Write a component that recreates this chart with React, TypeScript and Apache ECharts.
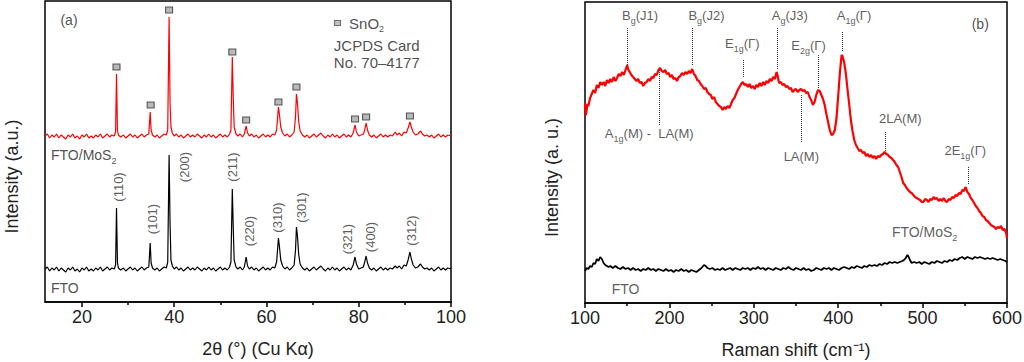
import React, { useEffect, useRef } from "react";
import * as echarts from "echarts";

// ---------- (a) XRD ----------
const xrdFtoMos2: [number, number][] = [
  [12,166],[12.5,168],[13,164],[13.5,167],[14,165],[14.5,168],[15,164],[15.5,167],[16,165],[16.5,163],[17,167],[17.5,165],[18,168],[18.5,164],[19,166],[19.5,163],[20,167],[20.5,165],[21,168],[21.5,164],[22,166],[22.5,164],[23,167],[23.5,165],[24,168],[24.5,164],[25,166],[25.5,168],[26,165],[26.5,167],[27,166],[27.3,170],[27.5,228],[27.7,172],[27.9,167],[28.4,165],[29,167],[29.5,164],[30,166],[30.5,168],[31,165],[31.5,167],[32,164],[32.5,166],[33,168],[33.5,165],[34,167],[34.5,168],[34.8,190],[35.0,172],[35.3,167],[35.8,165],[36.3,167],[36.8,164],[37.3,166],[37.8,168],[38.3,167],[38.6,172],[38.9,285],[39.1,200],[39.3,175],[39.6,169],[40,166],[40.5,168],[41,165],[41.5,167],[42,164],[42.5,166],[43,168],[43.5,165],[44,167],[44.5,165],[45,168],[45.5,166],[46,164],[46.5,167],[47,165],[47.5,168],[48,165],[48.5,167],[49,164],[49.5,166],[50,168],[50.5,165],[51,167],[51.5,165],[52,168],[52.3,172],[52.6,245],[52.8,205],[53,175],[53.4,168],[53.8,166],[54.3,168],[54.8,165],[55.2,168],[55.6,176],[55.9,169],[56.3,166],[56.8,168],[57.3,165],[57.8,167],[58.3,164],[58.8,166],[59.3,168],[59.8,165],[60.3,167],[60.8,165],[61.3,168],[61.8,167],[62.2,172],[62.6,195],[62.8,188],[63.1,175],[63.5,169],[64,166],[64.5,168],[65,165],[65.5,167],[66,170],[66.3,185],[66.5,208],[66.7,200],[67,180],[67.3,171],[67.8,167],[68.3,165],[68.8,167],[69.3,164],[69.8,166],[70.3,168],[70.8,165],[71.3,167],[71.8,169],[72.3,166],[72.8,164],[73.3,167],[73.8,165],[74.3,168],[74.8,165],[75.3,167],[75.8,164],[76.3,166],[76.8,168],[77.3,165],[77.8,167],[78.3,165],[78.8,169],[79.2,177],[79.5,170],[80,166],[80.5,167],[81,168],[81.3,172],[81.6,179],[81.9,172],[82.3,167],[82.8,165],[83.3,167],[83.8,164],[84.3,166],[84.8,168],[85.3,165],[85.8,167],[86.3,165],[86.8,167],[87.3,166],[87.9,170],[88.3,167],[88.8,169],[89.3,166],[89.8,170],[90.3,169],[90.7,174],[91.1,180],[91.4,175],[91.8,170],[92.3,167],[92.8,168],[93.4,171],[93.8,168],[94.3,166],[94.8,167],[95.3,165],[95.8,167],[96.3,164],[96.8,166],[97.3,168],[97.8,165],[98.3,167],[98.8,165],[99.3,167],[100,166]
];

const xrdFto: [number, number][] = [
  [12,33],[12.5,35],[13,31],[13.5,34],[14,32],[14.5,35],[15,31],[15.5,34],[16,32],[16.5,30],[17,34],[17.5,32],[18,35],[18.5,31],[19,33],[19.5,30],[20,34],[20.5,32],[21,35],[21.5,31],[22,33],[22.5,31],[23,34],[23.5,32],[24,35],[24.5,31],[25,33],[25.5,35],[26,32],[26.5,34],[27,33],[27.3,37],[27.5,94],[27.7,40],[27.9,34],[28.4,32],[29,34],[29.5,31],[30,33],[30.5,35],[31,32],[31.5,34],[32,31],[32.5,33],[33,35],[33.5,32],[34,34],[34.5,35],[34.8,59],[35.0,39],[35.3,34],[35.8,32],[36.3,34],[36.8,31],[37.3,33],[37.8,35],[38.3,34],[38.6,40],[38.9,147],[39.1,80],[39.3,42],[39.6,36],[40,33],[40.5,35],[41,32],[41.5,34],[42,31],[42.5,33],[43,35],[43.5,32],[44,34],[44.5,32],[45,35],[45.5,33],[46,31],[46.5,34],[47,32],[47.5,35],[48,32],[48.5,34],[49,31],[49.5,33],[50,35],[50.5,32],[51,34],[51.5,32],[52,35],[52.3,40],[52.6,113],[52.8,75],[53,42],[53.4,35],[53.8,33],[54.3,35],[54.8,32],[55.2,35],[55.6,45],[55.9,36],[56.3,33],[56.8,35],[57.3,32],[57.8,34],[58.3,31],[58.8,33],[59.3,35],[59.8,32],[60.3,34],[60.8,32],[61.3,35],[61.8,34],[62.2,40],[62.6,64],[62.8,56],[63.1,42],[63.5,36],[64,33],[64.5,35],[65,32],[65.5,34],[66,37],[66.3,52],[66.5,75],[66.7,67],[67,47],[67.3,38],[67.8,34],[68.3,32],[68.8,34],[69.3,31],[69.8,33],[70.3,35],[70.8,32],[71.3,34],[71.8,36],[72.3,33],[72.8,31],[73.3,34],[73.8,32],[74.3,35],[74.8,32],[75.3,34],[75.8,31],[76.3,33],[76.8,35],[77.3,32],[77.8,34],[78.3,32],[78.8,37],[79.2,45],[79.5,38],[80,33],[80.5,34],[81,35],[81.3,40],[81.6,46],[81.9,39],[82.3,34],[82.8,32],[83.3,34],[83.8,31],[84.3,33],[84.8,35],[85.3,32],[85.8,34],[86.3,32],[86.8,34],[87.3,33],[87.9,36],[88.3,34],[88.8,36],[89.3,33],[89.8,37],[90.3,36],[90.7,42],[91.1,50],[91.4,43],[91.8,37],[92.3,34],[92.8,35],[93.4,38],[93.8,35],[94.3,33],[94.8,34],[95.3,32],[95.8,34],[96.3,31],[96.8,33],[97.3,35],[97.8,32],[98.3,34],[98.8,32],[99.3,34],[100,33]
];

const sno2PeakX = [27.5, 34.9, 38.9, 52.6, 55.6, 62.6, 66.5, 79.2, 81.6, 91.1];
const sno2MarkerY = [235, 197, 292, 250, 182, 200, 215, 183, 185, 186];

const hklLabels = ["(110)", "(101)", "(200)", "(211)", "(220)", "(310)", "(301)", "(321)", "(400)", "(312)"];
const hklLabelX = [28.0, 35.3, 42.3, 52.7, 56.3, 62.3, 67.6, 77.6, 82.6, 91.5];
const hklLabelY = [115, 83, 135, 135, 71, 84.5, 94.5, 63, 65, 71.5];

// ---------- (b) Raman ----------
const ramanFtoMos2: [number, number][] = [
  [100,200],[101,188],[102,193],[103,199],[104,197],[106,205],[108,209],[110,213],[112,210],[114,218],[116,215],[118,221],[120,218],[122,221],[124,217],[126,223],[128,220],[130,224],[132,221],[134,226],[136,222],[138,225],[140,229],[142,227],[144,231],[146,228],[148,233],[150,238],[151,234],[153,231],[155,228],[157,226],[159,224],[161,222],[163,224],[165,220],[167,221],[169,217],[171,220],[173,221],[175,224],[177,222],[179,226],[181,225],[183,229],[185,228],[187,233],[189,235],[191,232],[193,231],[195,233],[197,229],[199,230],[201,226],[203,228],[205,224],[207,225],[209,222],[211,226],[213,227],[215,230],[217,228],[219,231],[221,229],[223,232],[225,230],[227,234],[229,229],[231,227],[233,223],[235,222],[237,219],[239,217],[241,214],[243,215],[245,211],[247,209],[249,208],[251,204],[253,206],[255,201],[257,199],[259,197],[261,196],[263,193],[265,196],[267,194],[269,197],[271,195],[273,199],[275,203],[277,205],[279,209],[281,213],[283,216],[285,219],[287,221],[289,218],[291,219],[293,216],[295,219],[297,215],[299,217],[301,214],[303,218],[305,216],[307,220],[309,217],[311,221],[313,218],[315,222],[317,220],[319,224],[321,222],[323,226],[325,224],[327,231],[328,228],[330,220],[332,221],[334,218],[336,219],[338,216],[340,217],[342,214],[344,215],[346,211],[348,213],[350,214],[352,211],[354,213],[356,214],[358,212],[360,213],[362,210],[364,211],[366,206],[368,203],[370,198],[372,201],[374,208],[376,213],[378,212],[380,208],[382,204],[384,198],[386,189],[388,181],[390,173],[392,168],[394,169],[396,173],[398,185],[400,207],[402,230],[404,248],[405,247],[407,241],[409,230],[411,214],[413,199],[415,183],[417,172],[419,163],[421,158],[423,155],[425,152],[427,153],[429,150],[431,151],[433,147],[435,149],[437,146],[439,148],[441,145],[443,147],[445,144],[447,147],[449,146],[451,148],[453,149],[455,151],[457,149],[459,148],[461,146],[463,145],[465,143],[467,141],[469,138],[471,136],[473,131],[475,126],[477,120],[479,118],[481,115],[483,113],[485,111],[487,110],[489,108],[491,106],[493,105],[495,104],[497,103],[499,101],[501,101],[503,104],[505,103],[507,101],[509,104],[511,103],[513,106],[515,104],[517,105],[519,102],[521,104],[523,102],[525,105],[527,102],[529,101],[531,104],[533,103],[535,106],[537,105],[539,108],[541,107],[543,110],[545,109],[547,113],[549,112],[551,116],[553,111],[555,109],[557,105],[559,103],[561,100],[563,97],[565,95],[567,92],[569,90],[571,87],[573,86],[575,83],[577,82],[579,80],[581,78],[583,77],[585,76],[587,74],[589,76],[591,75],[593,77],[595,73],[597,74],[599,70],[600,65]
];

const ramanFto: [number, number][] = [
  [100,32],[102,35],[104,34],[106,37],[108,36],[110,40],[112,39],[114,44],[116,42],[118,46],[120,44],[122,40],[124,38],[126,37],[128,36],[130,37],[133,35],[136,37],[139,35],[142,34],[145,36],[148,34],[151,35],[154,33],[157,35],[160,33],[163,34],[166,32],[169,34],[172,33],[175,35],[178,33],[181,34],[184,32],[187,34],[190,33],[193,32],[196,34],[199,32],[202,33],[205,31],[208,33],[211,32],[214,34],[217,32],[220,33],[223,31],[226,33],[229,32],[232,31],[235,33],[238,35],[241,38],[243,37],[245,35],[248,34],[251,35],[254,33],[257,34],[260,33],[263,35],[266,33],[269,34],[272,35],[275,33],[278,35],[281,34],[284,33],[287,35],[290,34],[293,35],[296,33],[299,35],[302,34],[305,36],[308,34],[311,35],[314,33],[317,35],[320,34],[323,33],[326,35],[329,34],[332,33],[335,35],[338,34],[341,36],[344,34],[347,33],[350,35],[353,34],[356,33],[359,35],[362,33],[365,34],[368,32],[371,33],[374,35],[377,34],[380,33],[383,35],[386,34],[389,35],[392,33],[395,35],[398,34],[401,33],[404,35],[407,36],[410,35],[413,34],[416,36],[419,35],[422,37],[425,36],[428,35],[431,37],[434,36],[437,38],[440,37],[443,38],[446,37],[449,39],[452,38],[455,40],[458,39],[461,41],[464,40],[467,41],[470,40],[473,41],[476,42],[478,43],[480,45],[482,48],[483,47],[485,43],[487,40],[490,41],[493,40],[496,41],[499,39],[502,41],[505,40],[508,39],[511,41],[514,40],[517,42],[520,41],[523,40],[526,42],[529,41],[532,43],[535,42],[538,44],[541,43],[544,45],[547,46],[550,44],[553,46],[556,45],[559,44],[562,46],[565,45],[568,46],[571,45],[574,44],[577,45],[580,44],[583,45],[586,44],[589,43],[592,44],[595,43],[598,42],[600,41]
];

const ramanModes = ["B{sub|g}(J1)", "B{sub|g}(J2)", "E{sub|1g}(Γ)", "A{sub|g}(J3)", "E{sub|2g}(Γ)", "A{sub|1g}(Γ)", "A{sub|1g}(M) -  LA(M)", "LA(M)", "2LA(M)", "2E{sub|1g}(Γ)"];
const modeLabelX = [165.2, 243.9, 286.4, 342.7, 364.8, 418.7, 176.1, 356.3, 473.5, 550.6];
const modeLabelY = [288, 288, 260, 288, 258, 288, 170, 147, 185, 153];
const modeLineX = [150.6, 227.2, 287.7, 327.6, 376.6, 404.4, 188.1, 356.1, 455.7, 554.5];
const modeLineTop = [275, 275, 243, 275, 248, 271, 233, 208, 171, 136];
const modeLineBottom = [238, 238, 225, 233, 215, 251, 178, 160, 151, 118];

const FONT = "Liberation Sans, Arial, Helvetica, sans-serif";
const SUB = { fontSize: 9, lineHeight: 10, verticalAlign: "bottom", fontFamily: FONT, color: "#222" };

function textSeries(
  xAxisIndex: number,
  yAxisIndex: number,
  items: { x: number; y: number; text: string; align?: string; rotate?: number; size?: number; color?: string }[]
) {
  return {
    type: "scatter",
    xAxisIndex,
    yAxisIndex,
    symbolSize: 0,
    silent: true,
    z: 5,
    data: items.map((it) => ({
      value: [it.x, it.y],
      label: {
        show: true,
        position: [0, 0],
        align: it.align || "center",
        verticalAlign: "middle",
        rotate: it.rotate || 0,
        formatter: it.text,
        fontSize: it.size || 14,
        lineHeight: 20,
        color: it.color || "#222",
        fontFamily: FONT,
        rich: { sub: { ...SUB, color: it.color || "#222" } },
      },
    })),
  };
}

export default function App() {
  const ref = useRef<HTMLDivElement>(null);
  useEffect(() => {
    if (!ref.current) return;
    const chart = echarts.init(ref.current, null, { renderer: "svg" });
    const axisLineStyle = { color: "#000", width: 1.5 };
    const common = { fontFamily: FONT, color: "#222" };
    const option: any = {
      animation: false,
      textStyle: { fontFamily: FONT },
      grid: [
        { left: 45, top: 1, width: 406, height: 301, show: true, borderColor: "#000", borderWidth: 1.5, containLabel: false, outerBoundsMode: "none" },
        { left: 585, top: 2, width: 422, height: 301, show: true, borderColor: "#000", borderWidth: 1.5, containLabel: false, outerBoundsMode: "none" },
      ],
      xAxis: [
        {
          gridIndex: 0, type: "value", min: 12, max: 100, position: "bottom",
          axisLine: { show: true, lineStyle: axisLineStyle },
          axisTick: { show: true, length: 5, inside: false, lineStyle: axisLineStyle, customValues: [20, 40, 60, 80, 100] },
          axisLabel: { fontSize: 18, margin: 6, ...common, customValues: [20, 40, 60, 80, 100] },
          splitLine: { show: false },
          name: "2θ (°) (Cu Kα)", nameLocation: "middle", nameGap: 38,
          nameTextStyle: { fontSize: 18, ...common, padding: [0, 0, 0, 20] },
        },
        {
          gridIndex: 0, type: "value", min: 12, max: 100, position: "bottom",
          axisLine: { show: false },
          axisTick: { show: true, length: 3, lineStyle: axisLineStyle, customValues: [30, 50, 70, 90] },
          axisLabel: { show: false, customValues: [30, 50, 70, 90] },
          splitLine: { show: false },
        },
        {
          gridIndex: 1, type: "value", min: 100, max: 600, interval: 100,
          axisLine: { show: true, lineStyle: axisLineStyle },
          axisTick: { show: true, length: 5, lineStyle: axisLineStyle },
          minorTick: { show: true, splitNumber: 2, length: 3, lineStyle: axisLineStyle },
          axisLabel: { fontSize: 18, margin: 6, ...common },
          splitLine: { show: false },
          minorSplitLine: { show: false },
          name: "Raman shift (cm⁻¹)", nameLocation: "middle", nameGap: 38,
          nameTextStyle: { fontSize: 18, ...common },
        },
      ],
      yAxis: [
        {
          gridIndex: 0, type: "value", min: 0, max: 301,
          axisLine: { show: false }, axisTick: { show: false }, axisLabel: { show: false }, splitLine: { show: false },
          name: "Intensity (a.u.)", nameLocation: "middle", nameGap: 24,
          nameTextStyle: { fontSize: 18, ...common, padding: [0, 50, 0, 0] },
        },
        {
          gridIndex: 1, type: "value", min: 0, max: 301,
          axisLine: { show: false }, axisTick: { show: false }, axisLabel: { show: false }, splitLine: { show: false },
          name: "Intensity (a. u.)", nameLocation: "middle", nameGap: 24,
          nameTextStyle: { fontSize: 18, ...common, padding: [0, 50, 0, 0] },
        },
      ],
      series: [
        {
          name: "XRD FTO/MoS2", type: "line", xAxisIndex: 0, yAxisIndex: 0, data: xrdFtoMos2,
          showSymbol: false, symbol: "none", lineStyle: { color: "#ff0000", width: 1.2 }, silent: true,
        },
        {
          name: "XRD FTO", type: "line", xAxisIndex: 0, yAxisIndex: 0, data: xrdFto,
          showSymbol: false, symbol: "none", lineStyle: { color: "#000", width: 1.2 }, silent: true,
        },
        {
          name: "SnO2 markers", type: "scatter", xAxisIndex: 0, yAxisIndex: 0, silent: true, z: 6,
          symbol: "rect", symbolSize: [7, 6],
          itemStyle: { color: "#a8a8a8", borderColor: "#333", borderWidth: 1 },
          data: sno2PeakX.map((x, i) => [x, sno2MarkerY[i]]),
        },
        {
          name: "legend marker", type: "scatter", xAxisIndex: 0, yAxisIndex: 0, silent: true, z: 6,
          symbol: "rect", symbolSize: [6, 5],
          itemStyle: { color: "#b0b0b0", borderColor: "#555", borderWidth: 1 },
          data: [[75.4, 279]],
        },
        textSeries(0, 0, hklLabels.map((t, i) => ({ x: hklLabelX[i], y: hklLabelY[i], text: t, rotate: 90, size: 13, color: "#333" }))),
        textSeries(0, 0, [
          { x: 17.2, y: 282, text: "(a)", size: 14 },
          { x: 13.3, y: 147, text: "FTO/MoS{sub|2}", align: "left", size: 14 },
          { x: 13.3, y: 14, text: "FTO", align: "left", size: 14 },
          { x: 77.9, y: 279, text: "SnO{sub|2}", align: "left", size: 15 },
          { x: 74.6, y: 257, text: "JCPDS Card", align: "left", size: 15 },
          { x: 74.6, y: 240, text: "No. 70–4177", align: "left", size: 15 },
        ]),
        {
          name: "Raman FTO/MoS2", type: "line", xAxisIndex: 2, yAxisIndex: 1, data: ramanFtoMos2,
          showSymbol: false, symbol: "none", lineStyle: { color: "#ff0000", width: 2.2 }, silent: true,
          markLine: {
            silent: true, symbol: ["none", "none"], label: { show: false },
            lineStyle: { type: "dotted", color: "#333", width: 1 },
            emphasis: { disabled: true },
            data: modeLineX.map((x, i) => [{ coord: [x, modeLineTop[i]] }, { coord: [x, modeLineBottom[i]] }]),
          },
        },
        {
          name: "Raman FTO", type: "line", xAxisIndex: 2, yAxisIndex: 1, data: ramanFto,
          showSymbol: false, symbol: "none", lineStyle: { color: "#000", width: 1.8 }, silent: true,
        },
        textSeries(2, 1, ramanModes.map((t, i) => ({ x: modeLabelX[i], y: modeLabelY[i], text: t, size: 13, color: "#333" }))),
        textSeries(2, 1, [
          { x: 568.3, y: 279, text: "(b)", size: 14 },
          { x: 463.6, y: 71, text: "FTO/MoS{sub|2}", align: "left", size: 14, color: "#333" },
          { x: 131.7, y: 14, text: "FTO", align: "left", size: 14, color: "#333" },
        ]),
      ],
    };
    chart.setOption(option);
    return () => chart.dispose();
  }, []);
  return <div ref={ref} style={{ position: "absolute", left: 0, top: 0, width: 1024, height: 362 }} />;
}
